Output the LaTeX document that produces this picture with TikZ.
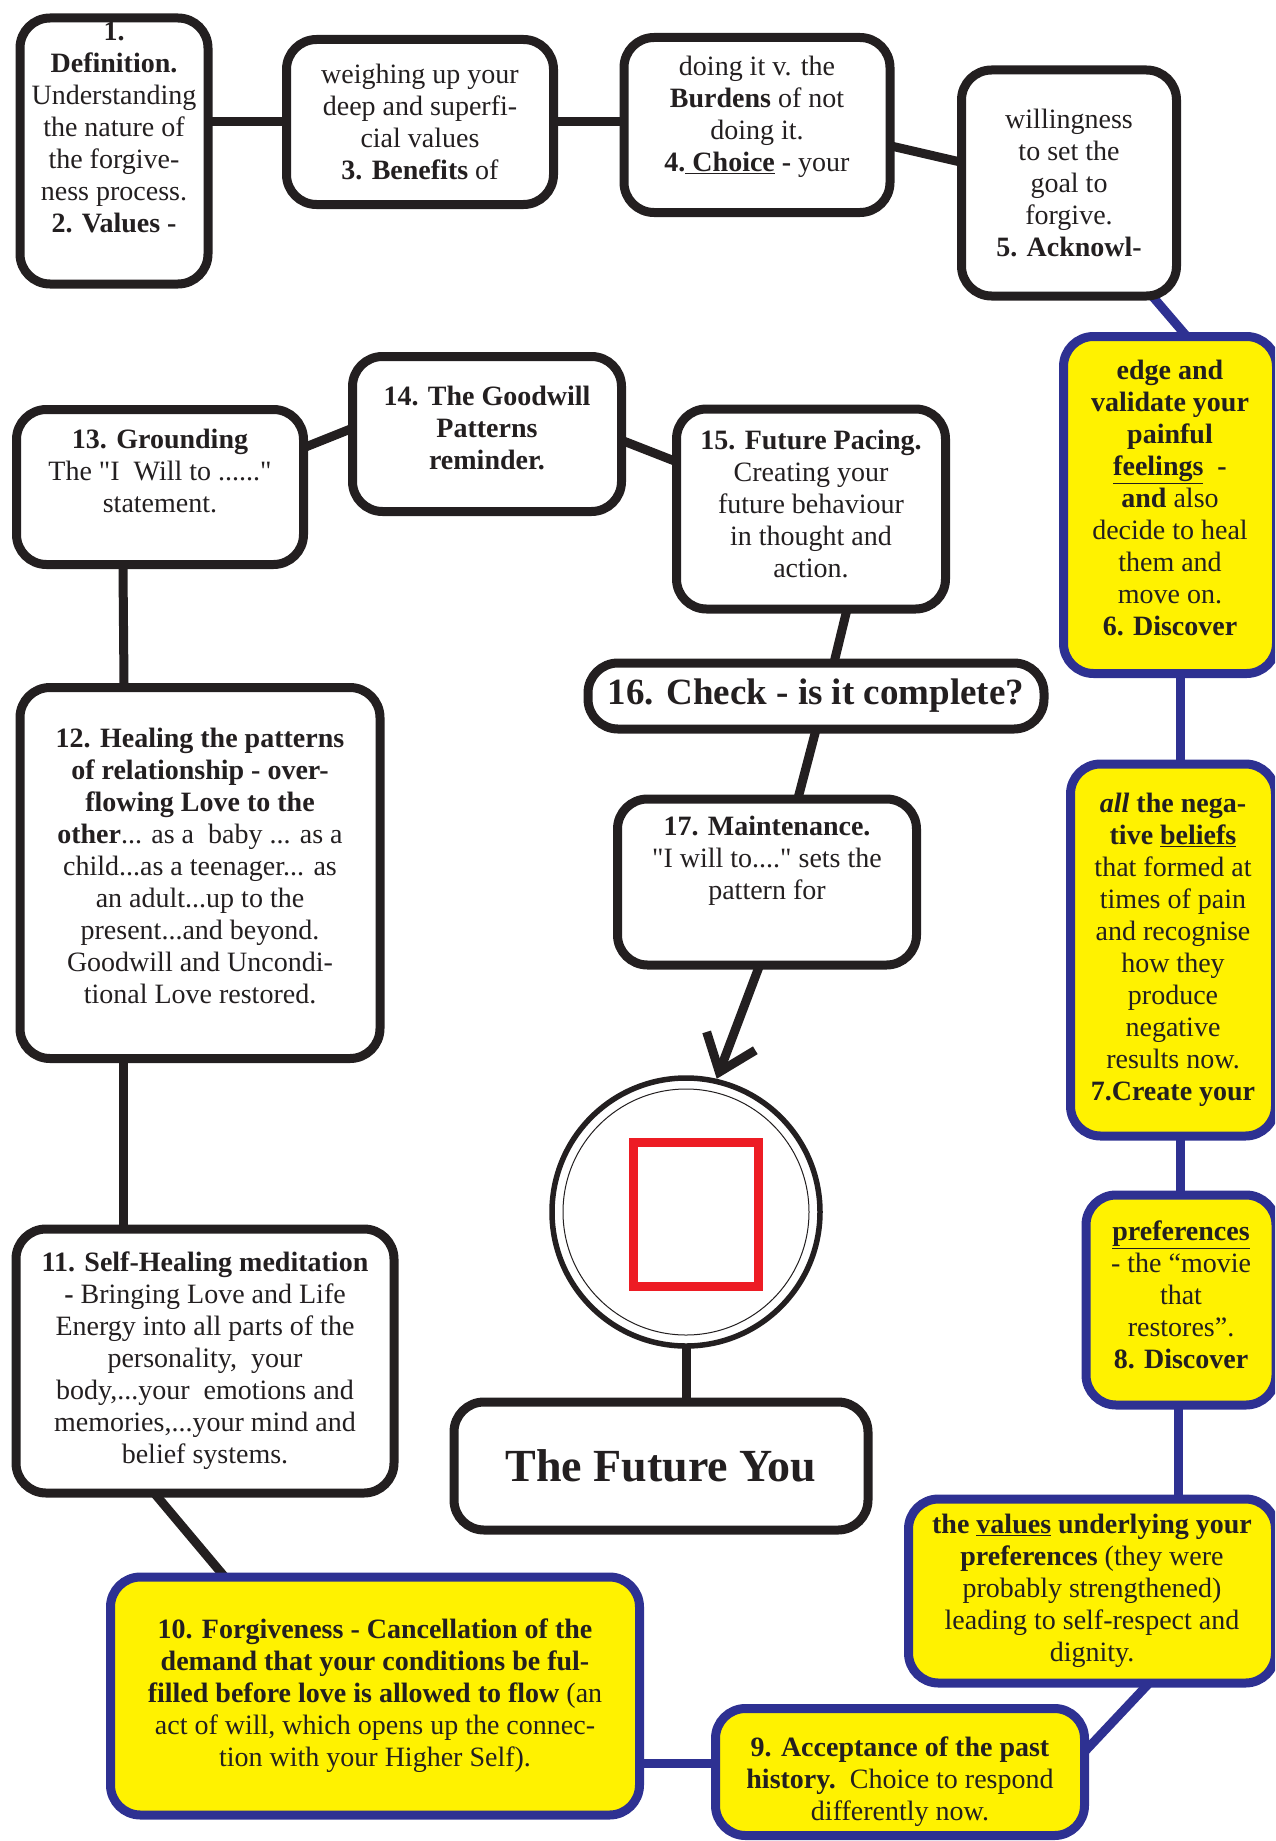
\documentclass[tikz,border=0pt]{standalone}
\usepackage{fontspec}
\setmainfont{Liberation Serif}[Ligatures=TeXOff]
\usetikzlibrary{arrows.meta,backgrounds}
\definecolor{stepblack}{HTML}{231F20}
\definecolor{stepblue}{HTML}{2E3192}
\definecolor{stepyellow}{HTML}{FFF200}
\definecolor{stepred}{HTML}{ED1C24}
\tikzstyle{white_step} =
  [ rectangle
  , rounded corners=30pt
  , draw=stepblack
  , fill=white
  , line width=9pt
  , text=stepblack
  , align=center
  , inner sep=0pt
  , font=\fontsize{28}{32}\selectfont
  ]
\tikzstyle{yellow_step} =
  [ white_step
  , draw=stepblue
  , fill=stepyellow
  ]
\tikzstyle{black_link} =
  [ draw=stepblack
  , line width=9pt
  , shorten <=-6pt
  , shorten >=-6pt
  ]
\tikzstyle{blue_link} =
  [ black_link
  , draw=stepblue
  ]
\def\LinePad#1{\\[#1]\mbox{}}
\def\StepDefinition{\textbf{1.}\\\textbf{Definition.}\\Understanding\\the nature of\\the forgive-\\ness process.\\\textbf{2. Values -}\LinePad{16pt}}
\def\StepValues{weighing up your\\deep and superfi-\\cial values\\\textbf{3. Benefits} of}
\def\StepBenefits{doing it v. the\\\textbf{Burdens} of not\\doing it.\\\textbf{4.\underline{ Choice} -} your\LinePad{-10pt}}
\def\StepChoice{willingness\\to set the\\goal to\\forgive.\\\textbf{5. Acknowl-}}
\def\StepAcknowledge{\textbf{edge and}\\\textbf{validate your}\\\textbf{painful}\\\textbf{\underline{feelings}\ \ -}\\\textbf{and} also\\decide to heal\\them and\\move on.\\\textbf{6. Discover}\LinePad{-18pt}}
\def\StepDiscoverBeliefs{\textbf{\textit{all} the nega-}\\\textbf{tive \underline{beliefs}}\\that formed at\\times of pain\\and recognise\\how they\\produce\\negative\\results now.\\\textbf{7.Create your}}
\def\StepCreatePreferences{\textbf{\underline{preferences}}\\- the “movie\\that\\restores”.\\\textbf{8. Discover}\LinePad{-22pt}}
\def\StepDiscoverValues{\textbf{the \underline{values} underlying your}\\\textbf{preferences} (they were\\probably strengthened)\\leading to self-respect and\\dignity.}
\def\StepAcceptance{\mbox{}\\[6pt]\textbf{9. Acceptance of the past}\\\textbf{history.}\ \ Choice to respond\\differently now.}
\def\StepForgiveness{\textbf{10. Forgiveness - Cancellation of the}\\\textbf{demand that your conditions be ful-}\\\textbf{filled before love is allowed to flow} (an\\act of will, which opens up the connec-\\tion with your Higher Self).}
\def\StepSelfHealing{\textbf{11. Self-Healing meditation}\\\textbf{-} Bringing Love and Life\\Energy into all parts of the\\personality,\ \ your\\body,...your\ \ emotions and\\memories,...your mind and\\belief systems.}
\def\StepHealingPatterns{\textbf{12. Healing the patterns}\\\textbf{of relationship - over-}\\\textbf{flowing Love to the}\\\textbf{other}... as a\ \ baby ... as a\\child...as a teenager... as\\an adult...up to the\\present...and beyond.\\Goodwill and Uncondi-\\tional Love restored.\LinePad{-18pt}}
\def\StepGrounding{\textbf{13. Grounding}\\The "I\ \ Will to ......"\\statement.\LinePad{0pt}}
\def\StepGoodwill{\textbf{14. The Goodwill}\\\textbf{Patterns}\\\textbf{reminder.}\LinePad{-20pt}}
\def\StepFuturePacing{\textbf{15. Future Pacing.}\\Creating your\\future behaviour\\in thought and\\action.\LinePad{-22pt}}
\def\StepCheck{\textbf{16. Check - is it complete?}}
\def\StepMaintenance{\textbf{17. Maintenance.}\\"I will to...." sets the\\pattern for\LinePad{16pt}}
\def\FutureYouText{\textbf{The Future You}}

\begin{document}
\begin{tikzpicture}[x=1pt, y=-1pt]
    \useasboundingbox (0,0) rectangle (1275,1841);
    \clip (0,0) rectangle (1275,1841);

    \node[white_step,  minimum width=188pt, minimum height=266pt] (Definition)         at ( 114,  151) {\StepDefinition};
    \node[white_step,  minimum width=267pt, minimum height=165pt] (Values)             at ( 420,  122) {\StepValues};
    \node[white_step,  minimum width=266pt, minimum height=175pt] (Benefits)           at ( 757,  125) {\StepBenefits};
    \node[white_step,  minimum width=215pt, minimum height=226pt] (Choice)             at (1069,  183) {\StepChoice};
    \node[yellow_step, minimum width=213pt, minimum height=337pt] (Acknowledge)        at (1170,  505) {\StepAcknowledge};
    \node[yellow_step, minimum width=205pt, minimum height=372pt] (Discover_Beliefs)   at (1173,  950) {\StepDiscoverBeliefs};
    \node[yellow_step, minimum width=190pt, minimum height=210pt] (Create_Preferences) at (1181, 1300) {\StepCreatePreferences};
    \node[yellow_step, minimum width=367pt, minimum height=184pt] (Discover_Values)    at (1092, 1591) {\StepDiscoverValues};
    \node[yellow_step, minimum width=369pt, minimum height=127pt] (Acceptance)         at ( 900, 1772) {\StepAcceptance};
    \node[yellow_step, minimum width=529pt, minimum height=238pt] (Forgiveness)        at ( 375, 1696) {\StepForgiveness};
    \node[white_step,  minimum width=378pt, minimum height=264pt] (Self_Healing)       at ( 205, 1361) {\StepSelfHealing};
    \node[white_step,  minimum width=360pt, minimum height=371pt] (Healing_Patterns)   at ( 200,  873) {\StepHealingPatterns};
    \node[white_step,  minimum width=287pt, minimum height=155pt] (Grounding)          at ( 160,  487) {\StepGrounding};
    \node[white_step,  minimum width=269pt, minimum height=155pt] (Goodwill_Patterns)  at ( 487,  434) {\StepGoodwill};
    \node[white_step,  minimum width=269pt, minimum height=200pt] (Future_Pacing)      at ( 811,  509) {\StepFuturePacing};
    \node[white_step,  minimum width=456pt, minimum height=66pt,
          font=\fontsize{37}{40}\selectfont]                      (Check)              at ( 816,  696) {\StepCheck};
    \node[white_step,  minimum width=299pt, minimum height=166pt] (Maintenance)        at ( 767,  882) {\StepMaintenance};
    \node[circle, draw=stepblack, fill=white, line width=5.5pt,
          minimum size=268pt]                                     (Future_Circle)      at ( 686, 1212) {};
    \node[white_step,  minimum width=414pt, minimum height=128pt,
          font=\fontsize{46}{50}\selectfont]                      (Future_You)         at ( 661, 1466) {\FutureYouText};

    \draw[stepblack, line width=1pt] (Future_Circle.center) circle [radius=123pt];
    \draw[stepred, line width=9pt] (633,1142) rectangle (758,1286);

    \begin{pgfonlayer}{background}
      \draw[black_link] (Values.west -| Definition.east)      -- (Values.west);
      \draw[black_link] (Values.east)                         -- (Values.east -| Benefits.west);
      \draw[black_link] (Benefits.-9)                         -- (Choice.169);
      \draw[blue_link]  ([xshift=87pt]Choice.south)           -- ([xshift=13pt]Acknowledge.north);
      \draw[blue_link]  ([xshift=10pt]Acknowledge.south)      -- ([xshift=7pt]Discover_Beliefs.north);
      \draw[blue_link]  ([xshift=7pt]Discover_Beliefs.south)  -- ([xshift=-1pt]Create_Preferences.north);
      \draw[blue_link]  ([xshift=-3pt]Create_Preferences.south) -- ([xshift=86pt]Discover_Values.north);
      \draw[blue_link]  ([xshift=53pt]Discover_Values.south)  -- ([yshift=25pt]Acceptance.east);
      \draw[blue_link]  ([yshift=9pt]Acceptance.west)         -- ([yshift=-67pt]Forgiveness.east);
      \draw[black_link] ([xshift=-154pt]Forgiveness.north)    -- ([xshift=-47pt]Self_Healing.south);
      \draw[black_link] ([xshift=-82pt]Self_Healing.north)    -- ([xshift=-77pt]Healing_Patterns.south);
      \draw[black_link] ([xshift=-76pt]Healing_Patterns.north) -- ([xshift=-37pt]Grounding.south);
      \draw[black_link] ([yshift=41pt]Grounding.east)         -- ([yshift=4pt]Goodwill_Patterns.west);
      \draw[black_link] ([yshift=-8pt]Goodwill_Patterns.east) -- ([yshift=49pt]Future_Pacing.west);
      \draw[black_link] ([xshift=35pt]Future_Pacing.south)    -- ([xshift=19pt]Check.north);
      \draw[black_link] ([xshift=-1pt]Check.south)            -- ([xshift=32pt]Maintenance.north);
      \draw[black_link, shorten >=0pt, -{Straight Barb[length=33pt,width=52pt]}]
                        ([xshift=-9pt]Maintenance.south)      -- (Future_Circle.77);
      \draw[black_link] (Future_Circle.south)                 -- (Future_Circle.south |- Future_You.north);
    \end{pgfonlayer}
\end{tikzpicture}
\end{document}
